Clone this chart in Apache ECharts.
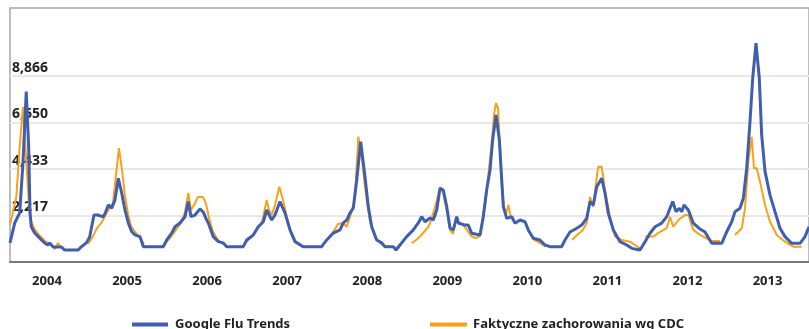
<!DOCTYPE html>
<html>
<head>
<meta charset="utf-8">
<script src="https://cdn.jsdelivr.net/npm/echarts@6/dist/echarts.min.js"></script>
<style>
html,body{margin:0;padding:0;background:#fff;}
#chart{width:809px;height:329px;}
</style>
</head>
<body>
<div id="chart"></div>
<script>
// Year tick labels (placed at Jan 1 of each year)
var yearTicks = [2004, 2005, 2006, 2007, 2008, 2009, 2010, 2011, 2012, 2013];
// Y gridline values shown in the chart
var yTickValues = [2216.5, 4433, 6649.5, 8866];
var seriesNames = ['Google Flu Trends', 'Faktyczne zachorowania wg CDC'];

// Google Flu Trends estimate: [decimal year, value]
var gftData = [
[2003.538,910],[2003.597,1860],[2003.659,2340],[2003.700,4720],[2003.741,8120],[2003.771,5500],[2003.788,2340],[2003.804,1680],[2003.846,1380],[2003.909,1140],
[2003.971,910],[2004.012,810],[2004.034,910],[2004.075,720],[2004.179,720],[2004.221,570],[2004.387,570],[2004.428,720],[2004.491,910],[2004.533,1190],
[2004.587,2240],[2004.637,2240],[2004.700,2150],[2004.728,2340],[2004.766,2720],[2004.808,2570],[2004.849,2960],[2004.891,3990],[2004.933,3290],[2004.974,2480],
[2005.016,1860],[2005.058,1440],[2005.099,1290],[2005.162,1210],[2005.203,730],[2005.453,730],[2005.495,1050],[2005.558,1380],[2005.599,1680],[2005.661,1860],
[2005.724,2160],[2005.765,2880],[2005.799,2160],[2005.849,2240],[2005.911,2530],[2005.952,2380],[2005.995,2000],[2006.015,1860],[2006.077,1210],[2006.140,970],
[2006.202,910],[2006.245,730],[2006.452,730],[2006.495,1050],[2006.577,1290],[2006.639,1680],[2006.702,1920],[2006.744,2480],[2006.807,2000],[2006.848,2240],
[2006.910,2880],[2006.973,2340],[2007.035,1530],[2007.098,970],[2007.201,730],[2007.431,730],[2007.494,1050],[2007.576,1380],[2007.660,1530],[2007.701,1860],
[2007.744,2000],[2007.785,2340],[2007.826,2570],[2007.869,3910],[2007.918,5740],[2007.972,4070],[2008.013,2640],[2008.056,1680],[2008.118,1050],[2008.181,910],
[2008.222,730],[2008.326,730],[2008.359,570],[2008.409,810],[2008.493,1210],[2008.576,1530],[2008.638,1860],[2008.680,2160],[2008.722,1920],[2008.784,2100],
[2008.825,2000],[2008.868,2480],[2008.909,3510],[2008.950,3430],[2008.993,2640],[2009.034,1620],[2009.075,1530],[2009.118,2160],[2009.138,1860],[2009.221,1760],
[2009.262,1760],[2009.305,1370],[2009.409,1290],[2009.450,2160],[2009.492,3430],[2009.534,4390],[2009.567,5820],[2009.609,7010],[2009.650,5820],[2009.680,3910],
[2009.700,2640],[2009.742,2080],[2009.805,2160],[2009.846,1850],[2009.908,2000],[2009.971,1920],[2010.012,1530],[2010.074,1130],[2010.158,1050],[2010.220,810],
[2010.283,730],[2010.429,730],[2010.470,1050],[2010.533,1430],[2010.617,1610],[2010.679,1760],[2010.741,2080],[2010.783,2880],[2010.824,2720],[2010.866,3590],
[2010.929,3990],[2010.970,3280],[2011.011,2320],[2011.074,1530],[2011.157,970],[2011.241,810],[2011.304,650],[2011.407,570],[2011.470,970],[2011.532,1370],
[2011.595,1680],[2011.678,1850],[2011.741,2160],[2011.782,2560],[2011.816,2880],[2011.857,2400],[2011.898,2560],[2011.928,2400],[2011.957,2720],[2012.011,2480],
[2012.073,1850],[2012.157,1570],[2012.219,1430],[2012.303,890],[2012.428,890],[2012.490,1440],[2012.553,1920],[2012.594,2400],[2012.656,2560],[2012.698,3040],
[2012.740,4470],[2012.781,6690],[2012.815,8760],[2012.856,10430],[2012.897,8760],[2012.927,6050],[2012.969,4310],[2013.031,3190],[2013.093,2400],[2013.156,1610],
[2013.218,1210],[2013.302,890],[2013.406,890],[2013.468,1210],[2013.518,1680]
];

// CDC reported cases: [decimal year, value]; null marks gaps (no reporting)
var cdcData = [
[2003.538,1760],[2003.617,3100],[2003.659,5480],[2003.700,7390],[2003.741,4860],[2003.771,2960],[2003.804,1910],[2003.850,1530],[2003.913,1240],[2003.975,1000],
[2004.037,860],[2004.100,620],[2004.137,910],[2004.175,670],[2004.340,null],
[2004.512,860],[2004.562,1140],[2004.625,1620],[2004.687,1910],[2004.737,2290],[2004.787,2620],[2004.824,2810],[2004.862,4150],[2004.899,5430],[2004.937,4390],
[2004.974,3150],[2005.012,2290],[2005.049,1720],[2005.099,1430],[2005.162,1140],[2005.212,860],[2005.340,null],
[2005.474,860],[2005.536,1140],[2005.611,1530],[2005.674,1860],[2005.724,2380],[2005.765,3290],[2005.799,2480],[2005.836,2720],[2005.886,3100],[2005.949,3100],
[2005.986,2770],[2006.024,2100],[2006.074,1430],[2006.136,1050],[2006.198,860],[2006.340,null],
[2006.486,950],[2006.561,1240],[2006.636,1620],[2006.686,1910],[2006.744,2960],[2006.773,2480],[2006.807,2240],[2006.848,2720],[2006.902,3590],[2006.948,2960],
[2006.998,2100],[2007.048,1430],[2007.110,950],[2007.185,760],[2007.340,null],
[2007.485,1000],[2007.560,1340],[2007.635,1810],[2007.697,1860],[2007.744,1680],[2007.806,2400],[2007.847,3110],[2007.889,5970],[2007.935,4860],[2007.985,3190],
[2008.035,1910],[2008.097,1190],[2008.160,910],[2008.222,720],[2008.400,null],
[2008.556,890],[2008.609,1050],[2008.659,1210],[2008.709,1430],[2008.763,1670],[2008.797,2000],[2008.825,2340],[2008.872,2960],[2008.909,3580],[2008.946,3340],
[2008.996,2380],[2009.034,1530],[2009.071,1340],[2009.109,2000],[2009.146,1910],[2009.196,1760],[2009.246,1530],[2009.296,1240],[2009.359,1140],[2009.409,1240],
[2009.459,2570],[2009.509,4000],[2009.546,5340],[2009.584,7010],[2009.609,7580],[2009.633,7340],[2009.658,5580],[2009.683,3670],[2009.708,2570],[2009.733,2290],
[2009.762,2720],[2009.796,2100],[2009.846,1860],[2009.908,2000],[2009.971,1910],[2010.021,1430],[2010.083,1050],[2010.158,910],[2010.220,760],[2010.400,null],
[2010.558,1050],[2010.620,1290],[2010.695,1530],[2010.745,1910],[2010.783,3100],[2010.824,2620],[2010.866,4050],[2010.886,4540],[2010.929,4540],[2010.970,3430],
[2011.032,2160],[2011.095,1210],[2011.179,1050],[2011.282,970],[2011.345,810],[2011.407,650],[2011.440,null],
[2011.470,1210],[2011.573,1210],[2011.657,1440],[2011.741,1610],[2011.782,2160],[2011.823,1680],[2011.886,2000],[2011.969,2240],[2012.011,2240],[2012.073,1530],
[2012.157,1290],[2012.240,1130],[2012.307,1000],[2012.406,1000],[2012.500,null],
[2012.594,1290],[2012.678,1610],[2012.719,2560],[2012.760,4780],[2012.802,5970],[2012.831,4470],[2012.865,4470],[2012.906,3830],[2012.969,2720],[2013.031,1920],
[2013.115,1290],[2013.218,970],[2013.322,730],[2013.427,730]
];

var BLUE = '#3f5eae';
var ORANGE = '#f9a11b';
var FONT = 'Noto Sans';

var chart = echarts.init(document.getElementById('chart'), null, {renderer: 'canvas'});
chart.setOption({
  backgroundColor: '#ffffff',
  animation: false,
  grid: {
    left: 10, right: 0, top: 8, bottom: 67,
    show: true, borderColor: '#a8a8a8', borderWidth: 1.5, backgroundColor: 'transparent'
  },
  legend: [
    {
      data: [seriesNames[0]], left: 127, top: 313,
      icon: 'rect', itemWidth: 36, itemHeight: 4, itemGap: 0,
      textStyle: {fontFamily: FONT, fontWeight: 'bold', fontSize: 13, color: '#222', padding: [0, 0, 0, 2]}
    },
    {
      data: [seriesNames[1]], left: 425, top: 313,
      icon: 'rect', itemWidth: 37, itemHeight: 4, itemGap: 0,
      textStyle: {fontFamily: FONT, fontWeight: 'bold', fontSize: 13, color: '#222', padding: [0, 0, 0, 1]}
    }
  ],
  xAxis: {
    type: 'value',
    min: 2003.538, max: 2013.518,
    axisLine: {show: true, lineStyle: {color: '#777', width: 2}},
    axisTick: {show: false},
    splitLine: {show: false},
    axisLabel: {
      customValues: yearTicks,
      margin: 13,
      fontFamily: FONT, fontWeight: 'bold', fontSize: 13, color: '#222',
      formatter: function (v) { return String(Math.round(v)); }
    }
  },
  yAxis: {
    type: 'value',
    min: 0, max: 12108, interval: 2216.5,
    axisLine: {show: false},
    axisTick: {show: false},
    splitLine: {
      show: true,
      lineStyle: {color: ['rgba(0,0,0,0)', '#e8e8e8', '#e8e8e8', '#e8e8e8', '#e8e8e8', 'rgba(0,0,0,0)'], width: 2}
    },
    axisLabel: {
      inside: true, margin: 2, verticalAlign: 'bottom',
      fontFamily: FONT, fontWeight: 'bold', fontSize: 14, color: '#222',
      padding: [0, 0, 1, 0],
      formatter: function (v) {
        for (var i = 0; i < yTickValues.length; i++) {
          if (Math.abs(v - yTickValues[i]) < 1) return Math.round(v).toLocaleString('en-US');
        }
        return '';
      }
    }
  },
  series: [
    {
      name: seriesNames[1], type: 'line', data: cdcData,
      showSymbol: false, symbol: 'none', connectNulls: false,
      lineStyle: {color: ORANGE, width: 2}, itemStyle: {color: ORANGE}, z: 2
    },
    {
      name: seriesNames[0], type: 'line', data: gftData,
      showSymbol: false, symbol: 'none',
      lineStyle: {color: BLUE, width: 3}, itemStyle: {color: BLUE}, z: 3
    }
  ]
});
</script>
</body>
</html>
